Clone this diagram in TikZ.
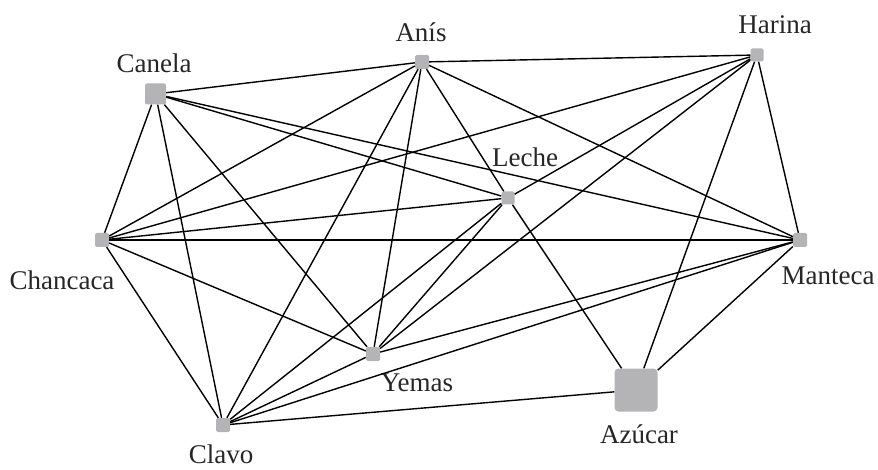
\documentclass[tikz,border=0pt]{standalone}
\usepackage{fontspec}
\setmainfont{Liberation Serif}
\begin{document}
\begin{tikzpicture}[x=1pt,y=-1pt,
  ingr/.style={fill=nodegray,draw=none,minimum size=14pt,inner sep=0pt,rounded corners=1.5pt},
  lbl/.style={anchor=base,inner sep=0pt,text=black!85,font=\fontsize{27}{30}\selectfont},
  link/.style={draw=black,line width=1.4pt}]
\definecolor{nodegray}{RGB}{180,180,182}
\useasboundingbox (0,0) rectangle (878,470);
% nodes
\node[ingr,minimum size=21pt,rounded corners=2pt] (Ca) at (155.5,94) {};
\node[ingr] (A)  at (422,62) {};
\node[ingr,minimum size=13pt] (H)  at (757,55) {};
\node[ingr,minimum size=13pt] (L)  at (508,198) {};
\node[ingr] (Ch) at (102,240) {};
\node[ingr] (M)  at (800,240) {};
\node[ingr] (Y)  at (373,354) {};
\node[ingr] (Cl) at (223,425) {};
\node[ingr,minimum size=43pt,rounded corners=4pt] (Az) at (636,390) {};
% labels
\node[lbl] (tCa) at (154,73) {Canela};
\node[lbl] (tA)  at (421,42) {Anís};
\node[lbl] (tH)  at (775,34) {Harina};
\node[lbl] (tL)  at (525,167) {Leche};
\node[lbl] (tCh) at (62,290) {Chancaca};
\node[lbl] (tM)  at (828,285) {Manteca};
\node[lbl] (tY)  at (417,391) {Yemas};
\node[lbl] (tCl) at (221,463) {Clavo};
\node[lbl] (tAz) at (639,443) {Azúcar};
% edges
\begin{scope}[link]
\draw (Ca) -- (A);  \draw (Ca) -- (L);  \draw (Ca) -- (M);
\draw (Ca) -- (Ch); \draw (Ca) -- (Cl); \draw (Ca) -- (Y);
\draw (A) -- (H);   \draw (A) -- (Ch);  \draw (A) -- (Cl);
\draw (A) -- (Y);   \draw (A) -- (L);   \draw (A) -- (M);
\draw (H) -- (Ch);  \draw (H) -- (L);   \draw (H) -- (Y);
\draw (H) -- (Az);  \draw (H) -- (M);
\draw (L) -- (Ch);  \draw (L) -- (Y);   \draw (L) -- (Cl);  \draw (L) -- (Az);
\draw (Ch) -- (M);  \draw (Ch) -- (Y);  \draw (Ch) -- (Cl);
\draw (M) -- (Y);   \draw (M) -- (Cl);  \draw (M) -- (Az);
\draw (Y) -- (Cl);
\draw (Cl) -- (Az);
\end{scope}
\end{tikzpicture}
\end{document}
